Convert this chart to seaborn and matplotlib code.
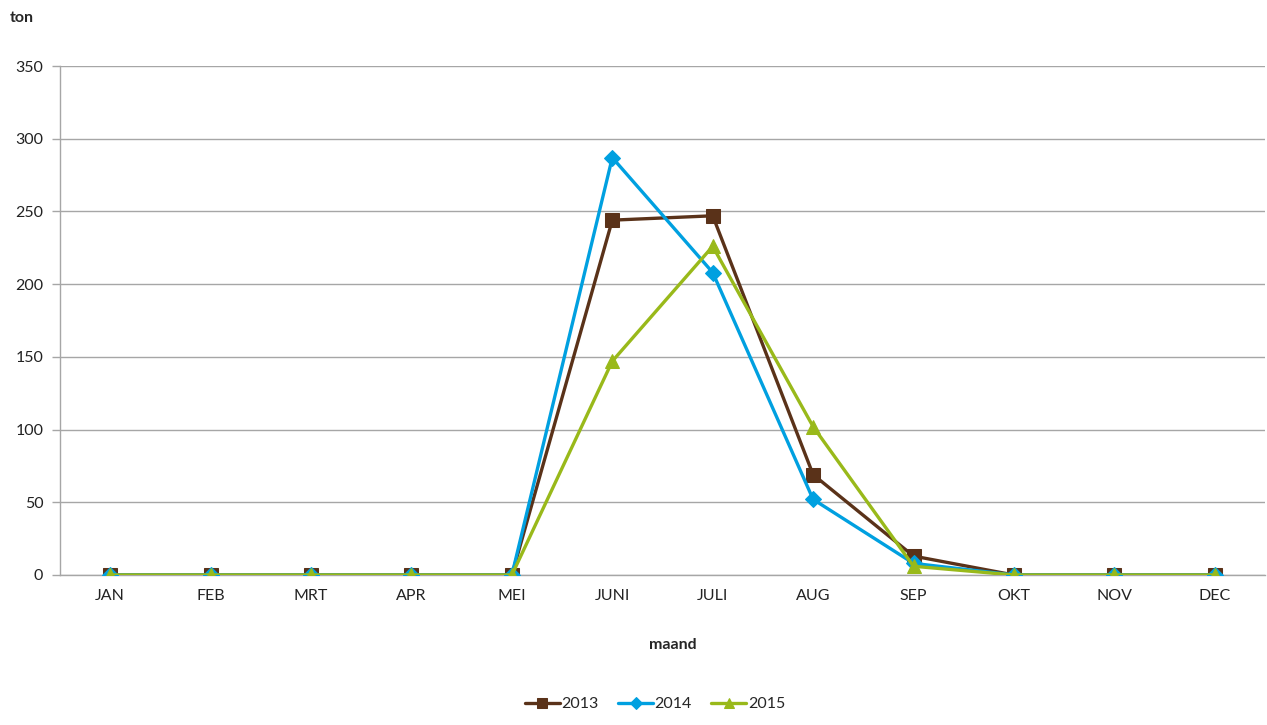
import numpy as np
import pandas as pd
import seaborn as sns
import matplotlib.pyplot as plt
from matplotlib.ticker import FixedLocator

months = ['JAN', 'FEB', 'MRT', 'APR', 'MEI', 'JUNI', 'JULI', 'AUG', 'SEP', 'OKT', 'NOV', 'DEC']
v2013 = [0, 0, 0, 0, 0, 244, 247, 69, 13, 0, 0, 0]
v2014 = [0, 0, 0, 0, 0, 287, 208, 52, 8, 0, 0, 0]
v2015 = [0, 0, 0, 0, 0, 147, 226, 102, 6, 0, 0, 0]

years = ['2013', '2014', '2015']
colors = {'2013': '#5a3219', '2014': '#00a0e0', '2015': '#99b91a'}
markers = {'2013': 's', '2014': 'D', '2015': '^'}
msizes = {'2013': 10, '2014': 8, '2015': 10}

data = pd.DataFrame({
    'maand': list(range(12)) * 3,
    'ton': v2013 + v2014 + v2015,
    'jaar': [y for y in years for _ in range(12)],
})

sns.set_style('white')
plt.rcParams['font.family'] = ['Lato', 'DejaVu Sans']

fig = plt.figure(figsize=(12.67, 7.25), dpi=100)
ax = fig.add_axes([60 / 1267, 1 - 575 / 725, 1205 / 1267, 509 / 725])

for y in years:
    sub = data[data['jaar'] == y]
    sns.lineplot(data=sub, x='maand', y='ton', ax=ax, color=colors[y], linewidth=2.4,
                 marker=markers[y], markersize=msizes[y], markeredgecolor=colors[y],
                 label=y, zorder=3)

ax.set_xlim(-0.5, 11.5)
ax.set_ylim(0, 350)
ax.set_yticks(np.arange(0, 351, 50))
ax.yaxis.grid(True, color='#a6a6a6', linewidth=1)
ax.set_axisbelow(True)

ax.set_xticks(range(12))
ax.set_xticklabels(months)
ax.xaxis.set_minor_locator(FixedLocator(np.arange(-0.5, 12, 1)))
ax.tick_params(axis='x', which='major', length=0, pad=10, labelsize=11.5, colors='#222222')
ax.tick_params(axis='x', which='minor', length=6, width=1, color='#a6a6a6', direction='out')
ax.tick_params(axis='y', length=6, width=1, color='#a6a6a6', direction='out', pad=6,
               labelsize=11.5, labelcolor='#222222', left=True)

for side in ['top', 'right']:
    ax.spines[side].set_visible(False)
for side in ['left', 'bottom']:
    ax.spines[side].set_color('#a6a6a6')
    ax.spines[side].set_linewidth(1)

ax.set_xlabel('')
ax.set_ylabel('')
fig.text(10 / 1267, 1 - 18 / 725, 'ton', fontsize=11.5, fontweight='bold', va='center', ha='left')
fig.text(673 / 1267, 1 - 645 / 725, 'maand', fontsize=11.5, fontweight='bold', va='center', ha='center')

ax.legend(loc='center', bbox_to_anchor=(655 / 1267, 1 - 704 / 725), bbox_transform=fig.transFigure,
          ncol=3, frameon=False, fontsize=11.5, handlelength=2.2, handletextpad=0.1,
          columnspacing=1.2, markerscale=0.75)

fig.savefig('out.png', dpi=100)
